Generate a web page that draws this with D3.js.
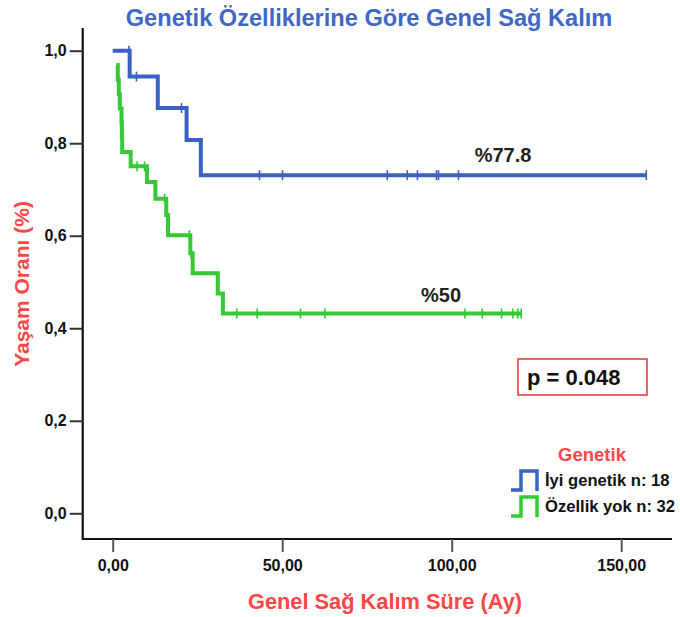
<!DOCTYPE html>
<html>
<head>
<meta charset="utf-8">
<script src="https://cdn.jsdelivr.net/npm/d3@7"></script>
<style>
  body { margin: 0; background: #fff; }
  svg { display: block; font-family: "Liberation Sans", Arial, sans-serif; }
</style>
</head>
<body>
<div id="chart"></div>
<script>
// Kaplan-Meier data (time in months, survival 0-1)
const blueTimes = [0, 5, 13.3, 21.8, 26];
const blueSurv = [1.0, 0.944, 0.876, 0.807, 0.731];
const blueEnd = 157.4;
const blueCensor = [4.8, 7, 20.3, 43.3, 50.1, 81.0, 86.9, 89.9, 95.5, 96.1, 102, 157.4];

const greenTimes = [1.1, 1.5, 1.8, 2.1, 2.6, 2.7, 2.8, 5.3, 10.1, 12.6, 15.8, 16.3, 22.9, 23.6, 31.0, 32.5];
const greenSurv = [0.969, 0.938, 0.906, 0.875, 0.844, 0.813, 0.781, 0.750, 0.716, 0.680, 0.645, 0.601, 0.562, 0.519, 0.475, 0.432];
const greenEnd = 120.5;
const greenCensor = [7.2, 9.4, 15.3, 22.6, 23.1, 36.6, 42.6, 55.4, 62.6, 103.9, 109.0, 114.7, 118.0, 119.5, 120.5];

const xTicks = [0, 50, 100, 150];
const xTickLabels = ['0,00', '50,00', '100,00', '150,00'];
const yTicks = [0, 0.2, 0.4, 0.6, 0.8, 1.0];
const yTickLabels = ['0,0', '0,2', '0,4', '0,6', '0,8', '1,0'];

const seriesNames = ['İyi genetik n: 18', 'Özellik yok n: 32'];
const seriesColors = ['#3a61c3', '#36c836'];
const endLabels = ['%77.8', '%50'];

const width = 680;
const height = 617;
const red = '#ff4646';

const svg = d3.select('#chart')
    .append('svg')
    .attr('width', width)
    .attr('height', height);

svg.append('rect').attr('width', width).attr('height', height).attr('fill', '#fff');

const x = d3.scaleLinear().domain([0, 150]).range([112.7, 621.2]);
const y = d3.scaleLinear().domain([0, 1]).range([513.3, 50.7]);

// axis frame
const axisLeft = 82.7, axisBottom = 539;
svg.append('path')
    .attr('d', `M${axisLeft},28 V${axisBottom} H672`)
    .attr('fill', 'none')
    .attr('stroke', '#111')
    .attr('stroke-width', 2.2);

const xAxis = svg.append('g')
    .attr('transform', `translate(0,${axisBottom})`)
    .call(d3.axisBottom(x).tickValues(xTicks).tickSize(13).tickPadding(8)
        .tickFormat((d, i) => xTickLabels[i]));
xAxis.select('.domain').remove();
xAxis.selectAll('line').attr('stroke', '#555').attr('stroke-width', 2);
xAxis.selectAll('text')
    .attr('fill', '#111')
    .style('font-size', '16px')
    .style('font-weight', 'bold');

const yAxis = svg.append('g')
    .attr('transform', `translate(${axisLeft},0)`)
    .call(d3.axisLeft(y).tickValues(yTicks).tickSize(13).tickPadding(3)
        .tickFormat((d, i) => yTickLabels[i]));
yAxis.select('.domain').remove();
yAxis.selectAll('line').attr('stroke', '#333').attr('stroke-width', 2);
yAxis.selectAll('text')
    .attr('fill', '#111')
    .style('font-size', '16px')
    .style('font-weight', 'bold');

// titles
svg.append('text')
    .attr('x', 369).attr('y', 26)
    .attr('text-anchor', 'middle')
    .attr('fill', '#3f67c6')
    .style('font-size', '23.6px')
    .style('font-weight', 'bold')
    .text('Genetik Özelliklerine Göre Genel Sağ Kalım');

svg.append('text')
    .attr('x', 385).attr('y', 609)
    .attr('text-anchor', 'middle')
    .attr('fill', red)
    .style('font-size', '21.8px')
    .style('font-weight', 'bold')
    .text('Genel Sağ Kalım Süre (Ay)');

svg.append('text')
    .attr('transform', 'translate(29,284) rotate(-90)')
    .attr('text-anchor', 'middle')
    .attr('fill', red)
    .style('font-size', '21px')
    .style('font-weight', 'bold')
    .text('Yaşam Oranı (%)');

// survival curves
const curves = [
    { times: blueTimes, surv: blueSurv, end: blueEnd, censor: blueCensor },
    { times: greenTimes, surv: greenSurv, end: greenEnd, censor: greenCensor }
];

const stepLine = d3.line()
    .x(d => x(d[0]))
    .y(d => y(d[1]))
    .curve(d3.curveStepAfter);

function survAt(c, t) {
    let s = c.surv[0];
    c.times.forEach((tt, i) => { if (tt <= t) s = c.surv[i]; });
    return s;
}

curves.forEach((c, k) => {
    const pts = c.times.map((t, i) => [t, c.surv[i]]);
    pts.push([c.end, c.surv[c.surv.length - 1]]);
    svg.append('path')
        .attr('d', stepLine(pts))
        .attr('fill', 'none')
        .attr('stroke', seriesColors[k])
        .attr('stroke-width', 4);

    svg.selectAll(null)
        .data(c.censor)
        .enter()
        .append('line')
        .attr('x1', d => x(d)).attr('x2', d => x(d))
        .attr('y1', d => y(survAt(c, d)) - 5)
        .attr('y2', d => y(survAt(c, d)) + 5)
        .attr('stroke', seriesColors[k])
        .attr('stroke-width', 1.6);
});

// end annotations
svg.append('text')
    .attr('x', 503).attr('y', 162)
    .attr('text-anchor', 'middle')
    .attr('fill', '#222')
    .style('font-size', '20px')
    .style('font-weight', 'bold')
    .text(endLabels[0]);

svg.append('text')
    .attr('x', 441).attr('y', 302)
    .attr('text-anchor', 'middle')
    .attr('fill', '#222')
    .style('font-size', '20px')
    .style('font-weight', 'bold')
    .text(endLabels[1]);

// p value box
svg.append('rect')
    .attr('x', 518).attr('y', 359)
    .attr('width', 129).attr('height', 36)
    .attr('fill', '#fff')
    .attr('stroke', '#e53535')
    .attr('stroke-width', 1.5);

svg.append('text')
    .attr('x', 527).attr('y', 385)
    .attr('fill', '#111')
    .style('font-size', '22px')
    .style('font-weight', 'bold')
    .text('p = 0.048');

// legend
svg.append('text')
    .attr('x', 592).attr('y', 461)
    .attr('text-anchor', 'middle')
    .attr('fill', red)
    .style('font-size', '18.5px')
    .style('font-weight', 'bold')
    .text('Genetik');

seriesNames.forEach((name, i) => {
    const top = 471 + i * 26;
    svg.append('path')
        .attr('d', `M511,${top + 19} H521 V${top} H537 V${top + 20}`)
        .attr('fill', 'none')
        .attr('stroke', seriesColors[i])
        .attr('stroke-width', 3.5);
    svg.append('text')
        .attr('x', 545).attr('y', top + 15)
        .attr('fill', '#111')
        .style('font-size', '16.6px')
        .style('font-weight', 'bold')
        .text(name);
});
</script>
</body>
</html>
